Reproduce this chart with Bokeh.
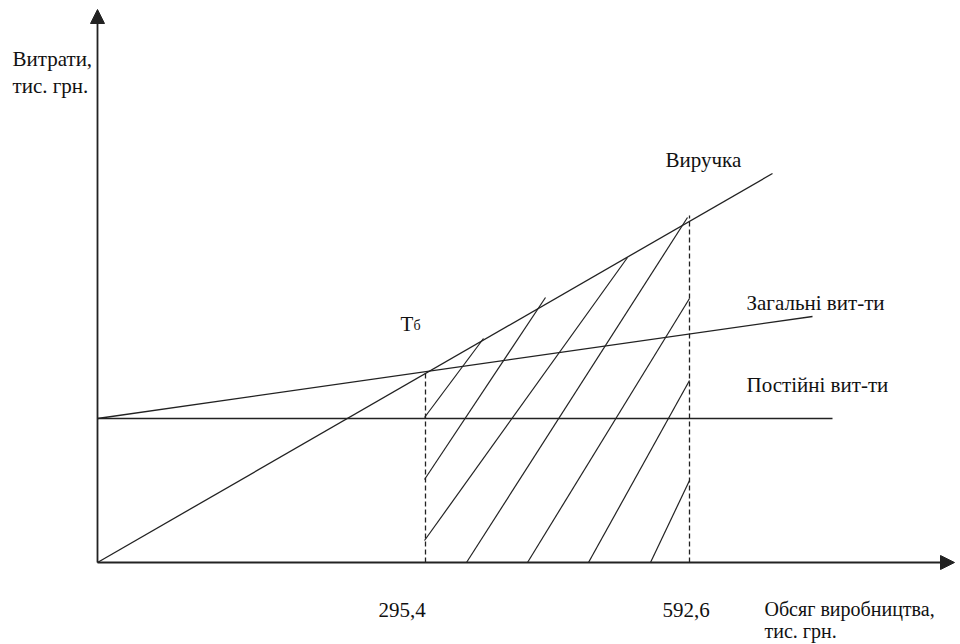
from bokeh.plotting import figure
from bokeh.models import Range1d, Arrow, NormalHead
from bokeh.core.properties import value
from bokeh.embed import file_html
from bokeh.resources import INLINE

# Schematic break-even chart (diagram units, not to scale)
# Revenue line
rev_x = [0, 675]
rev_y = [0, 389]
# Total costs line
tc_x = [0, 715]
tc_y = [144, 246]
# Fixed costs line
fc_x = [0, 735]
fc_y = [144, 144]
# Break-even and max-volume markers (dashed verticals)
be_x = 328
be_y = 190
max_x = 592
max_y = 347
tick_labels = ["295,4", "592,6"]
tick_label_x = [281, 565]
# Hatch segments (profit zone) start/end points
h_x0 = [327, 327, 327, 369, 430, 491, 553]
h_y0 = [145, 83, 22, 0, 0, 0, 0]
h_x1 = [386, 448, 530, 590, 592, 592, 592]
h_y1 = [224, 265, 305, 345, 264, 182, 82]
# Axis extents
x_axis_end = 857
y_axis_end = 553

FONT = value("Liberation Serif")
LC = "#222222"

p = figure(width=960, height=644, output_backend="svg", toolbar_location=None,
           x_range=Range1d(-97, 863), y_range=Range1d(-82, 562),
           min_border=0, min_border_left=0, min_border_right=0,
           min_border_top=0, min_border_bottom=0)
p.xaxis.visible = False
p.yaxis.visible = False
p.grid.visible = False
p.outline_line_color = None
p.background_fill_color = "white"
p.border_fill_color = "white"

# Axes with arrowheads
p.add_layout(Arrow(end=NormalHead(size=14, fill_color=LC, line_color=LC, line_width=1),
                   x_start=0, y_start=0, x_end=0, y_end=y_axis_end,
                   line_color=LC, line_width=1.8))
p.add_layout(Arrow(end=NormalHead(size=14, fill_color=LC, line_color=LC, line_width=1),
                   x_start=0, y_start=0, x_end=x_axis_end, y_end=0,
                   line_color=LC, line_width=1.8))

# Main lines
p.line(rev_x, rev_y, line_color=LC, line_width=1.3)
p.line(tc_x, tc_y, line_color=LC, line_width=1.3)
p.line(fc_x, fc_y, line_color=LC, line_width=1.5)

# Dashed verticals
p.segment(x0=[be_x, max_x], y0=[0, 0], x1=[be_x, max_x], y1=[be_y, max_y],
          line_color=LC, line_width=1.3, line_dash="5 3")

# Hatching
p.segment(x0=h_x0, y0=h_y0, x1=h_x1, y1=h_y1, line_color=LC, line_width=1.2)

TC = "#111111"
def label(x, y, t, size="21px", align="left"):
    p.text(x=[x], y=[y], text=[t], text_font=FONT, text_font_size=size,
           text_align=align, text_baseline="alphabetic", text_color=TC)

label(-85, 504, "Витрати,")
label(-85, 477, "тис. грн.")
label(568, 403, "Виручка")
label(649, 260, "Загальні вит-ти")
label(649, 178, "Постійні вит-ти")
label(303, 239, "Т")
label(316, 237, "б", size="14px")
for tx, tl in zip(tick_label_x, tick_labels):
    label(tx, -47, tl)
label(667, -46, "Обсяг виробництва,", size="20px")
label(667, -68, "тис. грн.", size="20px")

open("out.html", "w").write(file_html(p, INLINE))
